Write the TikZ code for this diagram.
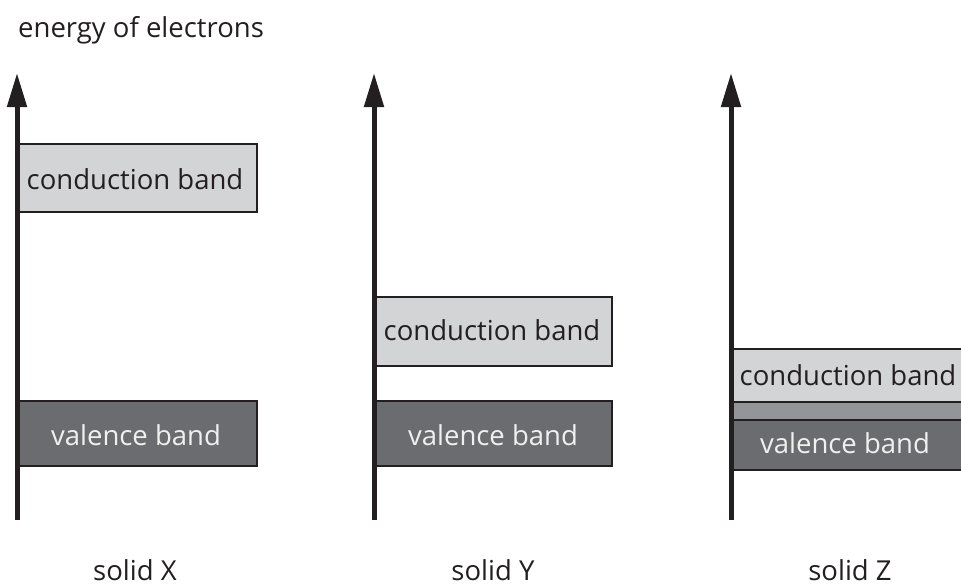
\documentclass[tikz,border=0pt]{standalone}
\usepackage{fontspec}
\setmainfont{Open Sans}
\usetikzlibrary{arrows.meta}
\definecolor{lightband}{HTML}{D3D4D6}
\definecolor{darkband}{HTML}{6B6C70}
\definecolor{midband}{HTML}{939598}
\definecolor{inkc}{HTML}{231F20}
\tikzset{
  axisline/.style={line width=5pt, draw=inkc, -{Triangle[length=34pt,width=19pt]}},
  bandbox/.style={draw=inkc, line width=2pt},
  condfill/.style={bandbox, fill=lightband},
  valfill/.style={bandbox, fill=darkband},
  lbl/.style={font=\fontsize{27.5}{32}\selectfont, text=inkc, inner sep=0pt},
  vlbl/.style={font=\fontsize{27.5}{32}\selectfont, text=white!94!black, inner sep=0pt},
}
\begin{document}
\begin{tikzpicture}[x=1pt,y=-1pt]
\useasboundingbox (0,0) rectangle (961,587);
% solid X
\draw[condfill] (17,144) rectangle (257,212);
\node[lbl] (cx) at (135,179) {conduction band};
\draw[valfill] (17,401) rectangle (257,466);
\node[vlbl] (vx) at (136,435) {valence band};
\coordinate (xb) at (17,520);
\coordinate (xt) at (17,73);
\draw[axisline] (xb) -- (xt);
% solid Y
\draw[condfill] (374,297) rectangle (612,366);
\node[lbl] (cy) at (492,330) {conduction band};
\draw[valfill] (374,401) rectangle (612,466);
\node[vlbl] (vy) at (493,435) {valence band};
\coordinate (yb) at (374,520);
\coordinate (yt) at (374,73);
\draw[axisline] (yb) -- (yt);
% solid Z
\draw[bandbox, fill=midband] (731,402) rectangle (975,420);
\draw[condfill] (731,349) rectangle (975,402);
\node[lbl] (cz) at (848,375) {conduction band};
\draw[valfill] (731,420) rectangle (975,470);
\node[vlbl] (vz) at (845,443) {valence band};
\coordinate (zb) at (731,520);
\coordinate (zt) at (731,73);
\draw[axisline] (zb) -- (zt);
% labels
\node[lbl, anchor=base west] (title) at (18,37) {energy of electrons};
\node[lbl, anchor=base] (sx) at (135,580) {solid X};
\node[lbl, anchor=base] (sy) at (493,580) {solid Y};
\node[lbl, anchor=base] (sz) at (850,580) {solid Z};
\end{tikzpicture}
\end{document}
